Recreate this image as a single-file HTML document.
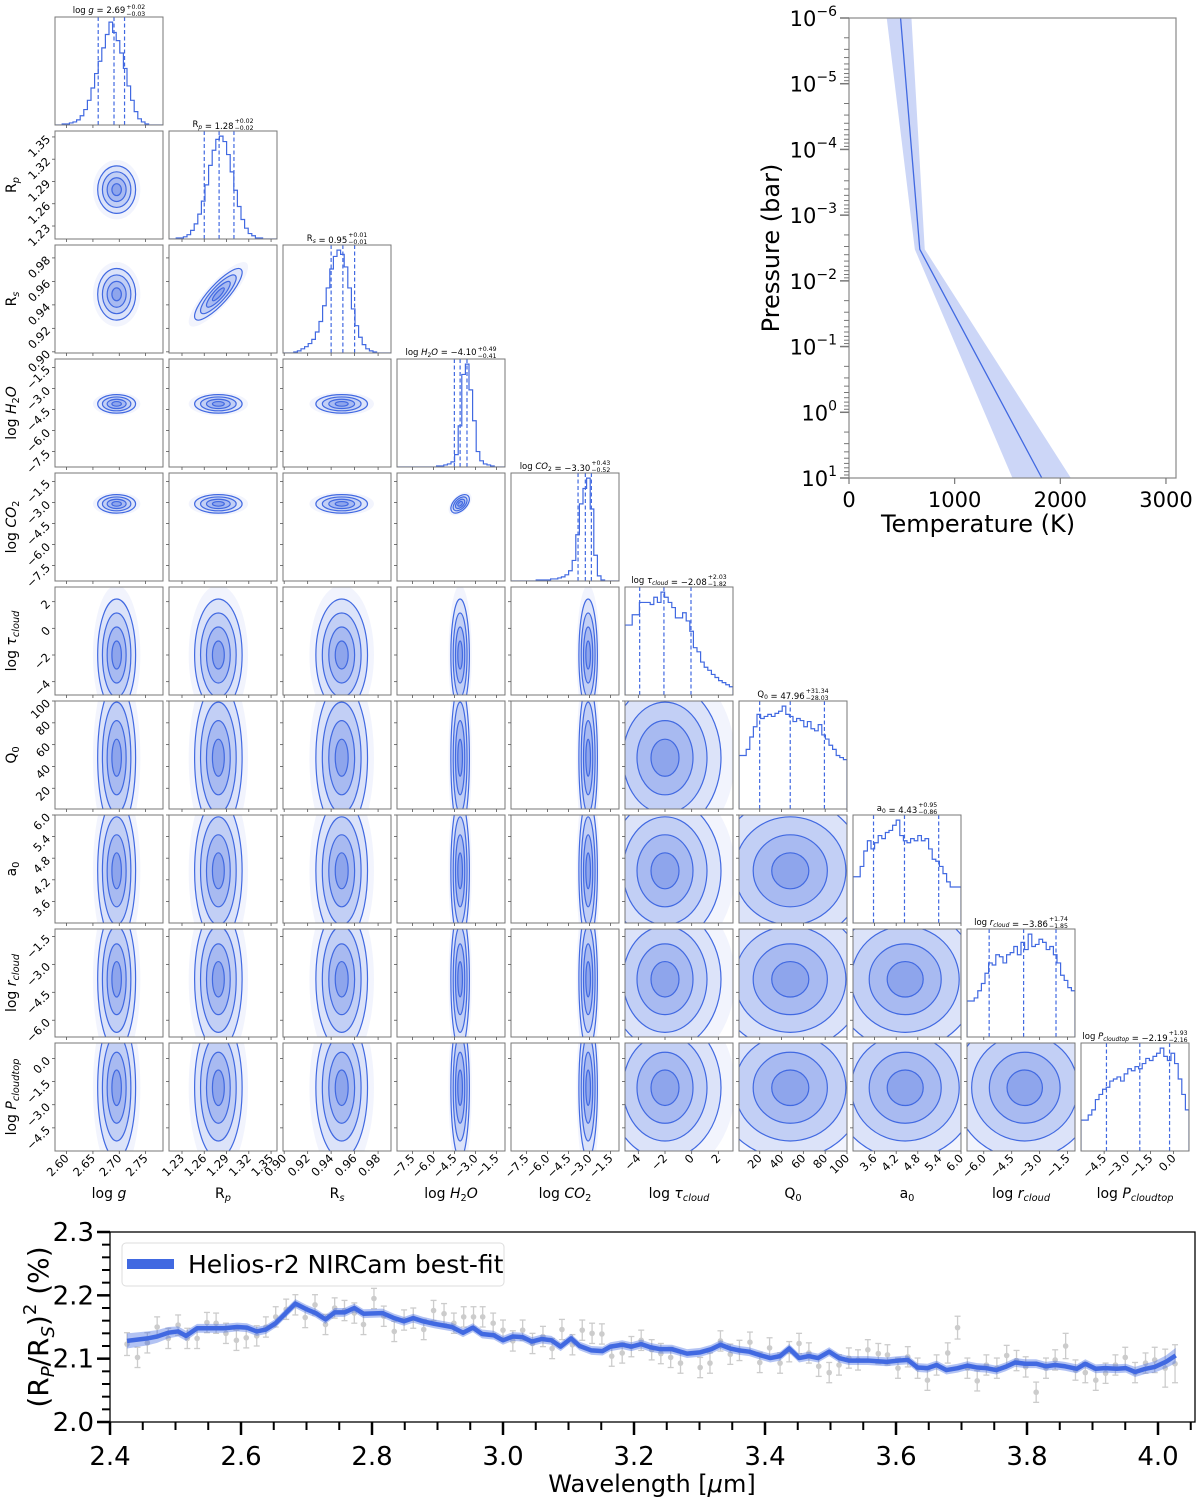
<!DOCTYPE html>
<html><head><meta charset="utf-8"><style>
html,body{margin:0;padding:0;background:#fff;}
svg{display:block;font-family:"DejaVu Sans","Liberation Sans",sans-serif;}
</style></head><body>
<svg id="fig" width="1200" height="1499" viewBox="0 0 1200 1499" xmlns="http://www.w3.org/2000/svg"></svg>
<script>
// ---------- Corner plot data ----------
const parNames = ['logg','Rp','Rs','logH2O','logCO2','logtau','Q0','a0','logrcloud','logPcloudtop'];
const parLo = [2.578, 1.2125, 0.899, -8.6, -8.6, -5.0, 1, 3.0, -6.9, -6.0];
const parHi = [2.783, 1.358, 0.991, -0.9, -0.9, 3.1, 100, 6.0, -1.1, 1.0];
const parTicks = [[2.60,2.65,2.70,2.75],[1.23,1.26,1.29,1.32,1.35],[0.90,0.92,0.94,0.96,0.98],[-7.5,-6.0,-4.5,-3.0,-1.5],[-7.5,-6.0,-4.5,-3.0,-1.5],[-4,-2,0,2],[20,40,60,80,100],[3.6,4.2,4.8,5.4,6.0],[-6.0,-4.5,-3.0,-1.5],[-4.5,-3.0,-1.5,0.0]];
const parTickLabels = [['2.60','2.65','2.70','2.75'],['1.23','1.26','1.29','1.32','1.35'],['0.90','0.92','0.94','0.96','0.98'],['\u22127.5','\u22126.0','\u22124.5','\u22123.0','\u22121.5'],['\u22127.5','\u22126.0','\u22124.5','\u22123.0','\u22121.5'],['\u22124','\u22122','0','2'],['20','40','60','80','100'],['3.6','4.2','4.8','5.4','6.0'],['\u22126.0','\u22124.5','\u22123.0','\u22121.5'],['\u22124.5','\u22123.0','\u22121.5','0.0']];
const parMed = [2.69, 1.28, 0.95, -4.10, -3.30, -2.08, 47.96, 4.43, -3.86, -2.19];
const parPlus = [0.02, 0.02, 0.01, 0.49, 0.43, 2.03, 31.34, 0.95, 1.74, 1.93];
const parMinus = [0.03, 0.02, 0.01, 0.41, 0.52, 1.82, 28.03, 0.86, 1.85, 2.16];
const medText = ['2.69','1.28','0.95','\u22124.10','\u22123.30','\u22122.08','47.96','4.43','\u22123.86','\u22122.19'];
const plusText = ['0.02','0.02','0.01','0.49','0.43','2.03','31.34','0.95','1.74','1.93'];
const minusText = ['0.03','0.02','0.01','0.41','0.52','1.82','28.03','0.86','1.85','2.16'];
const histCounts = [
 [0,0,1,1,2,3,5,9,15,24,36,50,62,75,88,100,90,82,70,55,38,24,13,6,3,1,0,0,0,0],
 [0,0,1,1,2,4,8,14,23,35,50,68,82,92,95,90,78,62,45,30,18,10,5,3,1,1,0,0,0,0],
 [0,0,0,1,2,4,6,9,13,20,30,45,62,80,92,98,94,82,62,42,26,15,8,4,2,1,0,0,0,0],
 [0,0,0,0,0,0,0,0,0,0,0,1,1,2,3,5,12,40,90,100,75,45,15,6,3,2,1,0,0,0],
 [0,0,0,0,0,0,0,1,1,1,1,2,2,3,4,6,10,20,45,75,90,100,70,25,5,1,0,0,0,0],
 [68,68,78,78,90,90,90,88,95,90,100,95,90,85,75,75,80,72,62,46,42,32,27,24,20,17,14,12,10,8],
 [52,52,58,70,80,92,88,90,92,90,93,95,100,92,90,85,88,86,80,85,78,76,82,72,68,62,58,52,50,48],
 [45,45,55,70,80,72,78,85,82,88,90,95,100,85,80,78,82,80,85,80,82,72,62,60,55,48,40,35,35,35],
 [35,35,38,45,52,62,72,70,80,78,72,80,82,88,80,92,85,100,88,90,95,92,85,88,80,72,60,55,48,45],
 [30,30,35,40,50,55,60,62,68,70,72,68,75,80,78,82,80,85,90,88,92,95,100,92,88,95,85,70,55,40]
];
const densCenter = [2.695, 1.279, 0.949, -4.1, -3.1, -2.0, 48, 4.45, -3.8, -1.9];
const densSigma = [0.018, 0.016, 0.011, 0.33, 0.33, 2.1, 34, 1.0, 1.9, 2.3];
const corrPairs = [[1,2,0.85],[3,4,0.5]];

// ---------- PT profile data ----------
const ptLogP = [-6, -2.48, 1];
const ptTmed = [488, 670, 1825];
const ptTlo = [357, 623, 1547];
const ptThi = [591, 717, 2100];
const ptXTicks = [0,1000,2000,3000];
const ptYDecades = [-6,-5,-4,-3,-2,-1,0,1];

// ---------- Spectrum data ----------
const modelWl = [2.426,2.457,2.472,2.489,2.504,2.516,2.533,2.551,2.574,2.594,2.609,2.624,2.638,2.653,2.683,2.700,2.714,2.729,2.743,2.758,2.773,2.787,2.816,2.834,2.849,2.863,2.878,2.895,2.922,2.939,2.954,2.968,2.986,3.000,3.015,3.030,3.044,3.059,3.074,3.088,3.104,3.117,3.135,3.152,3.164,3.182,3.196,3.211,3.225,3.240,3.258,3.281,3.301,3.318,3.332,3.347,3.361,3.376,3.391,3.408,3.423,3.437,3.452,3.467,3.481,3.498,3.513,3.528,3.557,3.586,3.604,3.618,3.633,3.648,3.662,3.677,3.694,3.709,3.724,3.738,3.753,3.767,3.782,3.797,3.814,3.829,3.843,3.858,3.876,3.889,3.905,3.919,3.937,3.951,3.965,3.981,3.995,4.012,4.027];
const modelVal = [2.128,2.132,2.135,2.141,2.143,2.136,2.148,2.148,2.148,2.150,2.149,2.143,2.146,2.156,2.187,2.178,2.172,2.162,2.173,2.173,2.180,2.171,2.172,2.164,2.159,2.164,2.159,2.155,2.150,2.141,2.149,2.139,2.137,2.129,2.135,2.134,2.127,2.131,2.129,2.119,2.132,2.120,2.113,2.112,2.119,2.122,2.119,2.123,2.118,2.115,2.115,2.108,2.110,2.115,2.122,2.116,2.113,2.111,2.106,2.101,2.104,2.116,2.101,2.104,2.101,2.111,2.101,2.097,2.097,2.095,2.097,2.098,2.086,2.085,2.090,2.082,2.085,2.089,2.086,2.085,2.082,2.087,2.094,2.092,2.092,2.088,2.090,2.088,2.084,2.092,2.084,2.085,2.084,2.085,2.079,2.084,2.087,2.095,2.105];
const modelBand = [0.012,0.011,0.010,0.009,0.008,0.008,0.007,0.007,0.007,0.007,0.007,0.007,0.007,0.007,0.007,0.007,0.007,0.007,0.007,0.007,0.007,0.007,0.007,0.007,0.007,0.007,0.007,0.007,0.007,0.007,0.007,0.007,0.007,0.007,0.007,0.007,0.007,0.007,0.007,0.007,0.007,0.007,0.007,0.007,0.007,0.007,0.007,0.007,0.007,0.007,0.007,0.007,0.007,0.007,0.007,0.007,0.007,0.007,0.007,0.007,0.007,0.007,0.007,0.007,0.007,0.007,0.007,0.007,0.007,0.007,0.007,0.007,0.007,0.007,0.007,0.007,0.007,0.007,0.007,0.007,0.007,0.007,0.007,0.007,0.007,0.007,0.007,0.007,0.007,0.007,0.007,0.007,0.007,0.007,0.008,0.008,0.009,0.010,0.012];
const dataWl = [2.426,2.442,2.457,2.472,2.489,2.504,2.518,2.533,2.548,2.562,2.577,2.593,2.608,2.624,2.638,2.653,2.669,2.683,2.698,2.713,2.729,2.743,2.758,2.773,2.787,2.803,2.818,2.834,2.849,2.863,2.879,2.894,2.910,2.925,2.940,2.955,2.969,2.985,3.000,3.015,3.030,3.045,3.061,3.075,3.090,3.106,3.121,3.136,3.151,3.166,3.182,3.196,3.211,3.227,3.241,3.256,3.271,3.301,3.316,3.332,3.347,3.361,3.377,3.392,3.407,3.423,3.437,3.452,3.467,3.482,3.498,3.513,3.528,3.542,3.557,3.573,3.587,3.603,3.618,3.633,3.648,3.662,3.679,3.694,3.709,3.724,3.738,3.754,3.769,3.784,3.798,3.814,3.829,3.843,3.859,3.874,3.889,3.905,3.920,3.935,3.950,3.965,3.981,3.995,4.011,4.026];
const dataVal = [2.123,2.102,2.125,2.150,2.132,2.153,2.132,2.132,2.157,2.156,2.140,2.129,2.133,2.136,2.150,2.166,2.178,2.185,2.165,2.185,2.154,2.180,2.176,2.172,2.154,2.195,2.167,2.143,2.161,2.164,2.146,2.176,2.171,2.156,2.166,2.166,2.166,2.156,2.145,2.128,2.145,2.124,2.135,2.116,2.146,2.122,2.145,2.140,2.139,2.104,2.109,2.119,2.129,2.114,2.108,2.102,2.093,2.086,2.093,2.128,2.107,2.113,2.126,2.094,2.117,2.093,2.111,2.124,2.109,2.088,2.078,2.090,2.101,2.098,2.114,2.108,2.106,2.085,2.103,2.085,2.066,2.090,2.109,2.149,2.085,2.065,2.090,2.085,2.105,2.097,2.087,2.047,2.085,2.098,2.120,2.082,2.078,2.066,2.077,2.090,2.102,2.078,2.093,2.098,2.085,2.092];
const dataErr = [0.018,0.016,0.016,0.016,0.016,0.016,0.016,0.016,0.016,0.016,0.016,0.016,0.016,0.016,0.016,0.016,0.016,0.016,0.016,0.016,0.016,0.016,0.016,0.016,0.016,0.016,0.016,0.016,0.016,0.016,0.016,0.016,0.016,0.016,0.016,0.016,0.016,0.016,0.016,0.016,0.016,0.016,0.016,0.016,0.016,0.016,0.016,0.016,0.016,0.016,0.016,0.016,0.016,0.016,0.016,0.016,0.016,0.016,0.016,0.016,0.016,0.016,0.016,0.016,0.016,0.016,0.016,0.016,0.016,0.016,0.016,0.016,0.016,0.016,0.016,0.016,0.016,0.016,0.016,0.016,0.016,0.016,0.016,0.018,0.016,0.016,0.016,0.016,0.016,0.016,0.016,0.016,0.016,0.016,0.020,0.016,0.016,0.016,0.016,0.016,0.016,0.016,0.016,0.020,0.030,0.030];
const specXTicks = [2.4,2.6,2.8,3.0,3.2,3.4,3.6,3.8,4.0];
const specYTicks = [2.0,2.1,2.2,2.3];

// ---------- helpers ----------
const NS='http://www.w3.org/2000/svg';
const svg=document.getElementById('fig');
const BLUE='#4169e1';
function el(tag, attrs, parent){const e=document.createElementNS(NS,tag);for(const k in attrs)e.setAttribute(k,attrs[k]);(parent||svg).appendChild(e);return e;}
function txt(x,y,s,size,anchor,parent,extra){const t=el('text',Object.assign({x:x,y:y,'font-size':size,'text-anchor':anchor||'middle',fill:'#000'},extra||{}),parent);t.innerHTML=s;return t;}

const labHtml = [
 'log<tspan font-style="italic"> g</tspan>',
 'R<tspan font-size="70%" dy="3" font-style="italic">p</tspan>',
 'R<tspan font-size="70%" dy="3" font-style="italic">s</tspan>',
 'log<tspan font-style="italic"> H</tspan><tspan font-size="70%" dy="3">2</tspan><tspan dy="-3" font-style="italic">O</tspan>',
 'log<tspan font-style="italic"> CO</tspan><tspan font-size="70%" dy="3">2</tspan>',
 'log<tspan font-style="italic"> τ</tspan><tspan font-size="70%" dy="3" font-style="italic">cloud</tspan>',
 'Q<tspan font-size="70%" dy="3">0</tspan>',
 'a<tspan font-size="70%" dy="3">0</tspan>',
 'log<tspan font-style="italic"> r</tspan><tspan font-size="70%" dy="3" font-style="italic">cloud</tspan>',
 'log<tspan font-style="italic"> P</tspan><tspan font-size="70%" dy="3" font-style="italic">cloudtop</tspan>'
];
const labTitle = [
 'log<tspan font-style="italic"> g</tspan>',
 'R<tspan font-size="70%" dy="2" font-style="italic">p</tspan><tspan dy="-2"></tspan>',
 'R<tspan font-size="70%" dy="2" font-style="italic">s</tspan><tspan dy="-2"></tspan>',
 'log<tspan font-style="italic"> H</tspan><tspan font-size="70%" dy="2">2</tspan><tspan dy="-2" font-style="italic">O</tspan>',
 'log<tspan font-style="italic"> CO</tspan><tspan font-size="70%" dy="2">2</tspan><tspan dy="-2"></tspan>',
 'log<tspan font-style="italic"> τ</tspan><tspan font-size="70%" dy="2" font-style="italic">cloud</tspan><tspan dy="-2"></tspan>',
 'Q<tspan font-size="70%" dy="2">0</tspan><tspan dy="-2"></tspan>',
 'a<tspan font-size="70%" dy="2">0</tspan><tspan dy="-2"></tspan>',
 'log<tspan font-style="italic"> r</tspan><tspan font-size="70%" dy="2" font-style="italic">cloud</tspan><tspan dy="-2"></tspan>',
 'log<tspan font-style="italic"> P</tspan><tspan font-size="70%" dy="2" font-style="italic">cloudtop</tspan><tspan dy="-2"></tspan>'
];

const N=10, PX0=55, PY0=17, STEP=114, PW=108;
function px(i,v){return PX0+i*STEP+(v-parLo[i])/(parHi[i]-parLo[i])*PW;}
function py(j,v){return PY0+j*STEP+PW-(v-parLo[j])/(parHi[j]-parLo[j])*PW;}

const defs=el('defs',{});
const corner=el('g',{});



for(let j=0;j<N;j++){
 for(let i=0;i<=j;i++){
  const x0=PX0+i*STEP, y0=PY0+j*STEP;
  const g=el('g',{},corner);
  
  
  const cid='clip'+i+'_'+j;
  const cp=el('clipPath',{id:cid},defs); el('rect',{x:x0,y:y0,width:PW,height:PW},cp);
  if(i===j){
   const cnt=histCounts[i]; const nb=cnt.length; const mx=Math.max(...cnt)*1.05;
   let d='';
   for(let b=0;b<nb;b++){
    const xa=x0+b*PW/nb, xb=x0+(b+1)*PW/nb, yy=y0+PW-cnt[b]/mx*PW;
    d+=(b===0?'M'+xa+','+(y0+PW)+' L'+xa+','+yy:' L'+xa+','+yy)+' L'+xb+','+yy;
   }
   d+=' L'+(x0+PW)+','+(y0+PW);
   const h=el('path',{d:d,fill:'none',stroke:BLUE,'stroke-width':1.2,'clip-path':'url(#'+cid+')'},g);
   
   
   [parMed[i]-parMinus[i],parMed[i],parMed[i]+parPlus[i]].forEach((v,k)=>{
    const xx=px(i,v);
    const l=el('line',{x1:xx,x2:xx,y1:y0,y2:y0+PW,stroke:BLUE,'stroke-width':1.2,'stroke-dasharray':'4,2.5'},g);
    
    
   });
   // title with sup/sub
   const tg=el('g',{},g);
   
   
   const tm=txt(0,y0-4,labTitle[i]+' = '+medText[i],8.5,'start',tg);
   const w=tm.getComputedTextLength();
   const sp=txt(0,y0-8,'+'+plusText[i],6.2,'start',tg);
   const sb=txt(0,y0-1,'\u2212'+minusText[i],6.2,'start',tg);
   const sw=Math.max(sp.getComputedTextLength(),sb.getComputedTextLength());
   const st=x0+PW/2-(w+sw+1)/2;
   tm.setAttribute('x',st); sp.setAttribute('x',st+w+1); sb.setAttribute('x',st+w+1);
  } else {
   let rho=0; corrPairs.forEach(c=>{if(c[0]===i&&c[1]===j)rho=c[2];});
   const cx=px(i,densCenter[i]), cy=py(j,densCenter[j]);
   const sx=densSigma[i]/(parHi[i]-parLo[i])*PW, sy=densSigma[j]/(parHi[j]-parLo[j])*PW;
   let r1=sx, r2=sy, ang=0;
   if(rho!==0){
    const a=sx*sx, c=sy*sy, b=-rho*sx*sy;
    const tr=(a+c)/2, det=Math.sqrt(((a-c)/2)**2+b*b);
    const l1=tr+det, l2=tr-det; ang=Math.atan2(l1-a,b)*180/Math.PI;
    r1=Math.sqrt(l1); r2=Math.sqrt(Math.max(l2,0.01));
   }
   const gg=el('g',{'clip-path':'url(#'+cid+')'},g);
   const levels=[2.5,2.0,1.5,1.0,0.5];
   const fills=[0.07,0.12,0.16,0.2,0.25];
   levels.forEach((k,m)=>{
    const e=el('ellipse',{cx:cx,cy:cy,rx:r1*k,ry:r2*k,transform:'rotate('+ang+' '+cx+' '+cy+')',fill:BLUE,'fill-opacity':fills[m],stroke:m===0?'none':BLUE,'stroke-width':1.2},gg);
    
    
   });
  }
  const fr=el('rect',{x:x0,y:y0,width:PW,height:PW,fill:'none',stroke:'#777','stroke-width':1},g);
  
  
  parTicks[i].forEach((v,k)=>{const xx=px(i,v); if(xx<x0-0.5||xx>x0+PW+0.5)return;
   el('line',{x1:xx,x2:xx,y1:y0+PW,y2:y0+PW+3,stroke:'#555','stroke-width':0.8},g);
   if(j===N-1){const t=txt(xx+3,y0+PW+8,parTickLabels[i][k],11.5,'end',g,{transform:'rotate(-45 '+(xx+3)+' '+(y0+PW+8)+')'});
    
    }
  });
  if(i!==j){ parTicks[j].forEach((v,k)=>{const yy=py(j,v); if(yy<y0-0.5||yy>y0+PW+0.5)return;
   el('line',{x1:x0-3,x2:x0,y1:yy,y2:yy,stroke:'#555','stroke-width':0.8},g);
   if(i===0){const t=txt(x0-4,yy+3,parTickLabels[j][k],11.5,'end',g,{transform:'rotate(-45 '+(x0-4)+' '+(yy+3)+')'});
    
    }
  });}
 }
}
for(let i=0;i<N;i++){
 const t=txt(PX0+i*STEP+PW/2,1198,labHtml[i],14,'middle',corner);
 
 
 if(i>0){const yc=PY0+i*STEP+PW/2;
  const t2=txt(16,yc,labHtml[i],14,'middle',corner,{transform:'rotate(-90 16 '+yc+')'});
  
  }
}

// ---------- PT panel ----------
const PT={l:849,r:1176,t:18,b:478,tmin:0,tmax:3095,pmin:-6,pmax:1};
function tx(T){return PT.l+(T-PT.tmin)/(PT.tmax-PT.tmin)*(PT.r-PT.l);}
function ty(lp){return PT.t+(lp-PT.pmin)/(PT.pmax-PT.pmin)*(PT.b-PT.t);}
const ptg=el('g',{});


let band='';
ptLogP.forEach((p,k)=>{band+=(k?'L':'M')+tx(ptThi[k])+','+ty(p)+' ';});
for(let k=ptLogP.length-1;k>=0;k--)band+='L'+tx(ptTlo[k])+','+ty(ptLogP[k])+' ';
const bd=el('path',{d:band+'Z',fill:BLUE,'fill-opacity':0.27,stroke:'none'},ptg);


const ptl=el('polyline',{points:ptLogP.map((p,k)=>tx(ptTmed[k])+','+ty(p)).join(' '),fill:'none',stroke:BLUE,'stroke-width':1.3},ptg);


const ptf=el('rect',{x:PT.l,y:PT.t,width:PT.r-PT.l,height:PT.b-PT.t,fill:'none',stroke:'#888','stroke-width':1.2},ptg);


ptYDecades.forEach(d=>{const yy=ty(d);
 el('line',{x1:PT.l-9,x2:PT.l,y1:yy,y2:yy,stroke:'#777','stroke-width':1.5},ptg);
 const t=txt(PT.l-12,yy+8,'10<tspan font-size="14" dy="-10">'+(d<0?'\u2212'+(-d):d)+'</tspan>',21,'end',ptg);
 
 
 if(d<PT.pmax){for(let m=2;m<=9;m++){const ym=ty(d+Math.log10(m));el('line',{x1:PT.l-5,x2:PT.l,y1:ym,y2:ym,stroke:'#777','stroke-width':1},ptg);}}
});
ptXTicks.forEach(T=>{const xx=tx(T);
 el('line',{x1:xx,x2:xx,y1:PT.b,y2:PT.b+6,stroke:'#777','stroke-width':1.2},ptg);
 const t=txt(xx,PT.b+29,String(T),21,'middle',ptg);
 
 
});
const ptxl=txt(978,532,'Temperature (K)',24,'middle',ptg);


const ptyl=txt(779,248,'Pressure (bar)',24,'middle',ptg,{transform:'rotate(-90 779 248)'});



// ---------- Spectrum ----------
const SP={l:110,r:1195,t:1232,b:1422,x0:2.4,x1:4.0,xp0:110,xp1:1158,y0:2.0,y1:2.3};
function sx(w){return SP.xp0+(w-SP.x0)/(SP.x1-SP.x0)*(SP.xp1-SP.xp0);}
function sy(v){return SP.b-(v-SP.y0)/(SP.y1-SP.y0)*(SP.b-SP.t);}
const sg=el('g',{});


dataWl.forEach((w,k)=>{const xx=sx(w), yy=sy(dataVal[k]), e1=sy(dataVal[k]+dataErr[k]), e2=sy(dataVal[k]-dataErr[k]);
 const pg=el('g',{stroke:'#cccccc','stroke-width':1.3},sg);
 
 
 el('line',{x1:xx,x2:xx,y1:e1,y2:e2},pg);
 el('line',{x1:xx-3,x2:xx+3,y1:e1,y2:e1},pg);
 el('line',{x1:xx-3,x2:xx+3,y1:e2,y2:e2},pg);
 el('circle',{cx:xx,cy:yy,r:2.8,fill:'#cccccc',stroke:'none'},pg);
});
let sbp='';
modelWl.forEach((w,k)=>{sbp+=(k?'L':'M')+sx(w)+','+sy(modelVal[k]+modelBand[k])+' ';});
for(let k=modelWl.length-1;k>=0;k--)sbp+='L'+sx(modelWl[k])+','+sy(modelVal[k]-modelBand[k])+' ';
const sbe=el('path',{d:sbp+'Z',fill:BLUE,'fill-opacity':0.4,stroke:'none'},sg);


const sml=el('polyline',{points:modelWl.map((w,k)=>sx(w)+','+sy(modelVal[k])).join(' '),fill:'none',stroke:BLUE,'stroke-width':4.5,'stroke-linejoin':'round'},sg);


const sfr=el('rect',{x:SP.l,y:SP.t,width:SP.r-SP.l,height:SP.b-SP.t,fill:'none',stroke:'#000','stroke-width':1.3},sg);


specYTicks.forEach(v=>{const yy=sy(v);
 el('line',{x1:SP.l-13,x2:SP.l,y1:yy,y2:yy,stroke:'#000','stroke-width':2.5},sg);
 const t=txt(SP.l-16,yy+9,v.toFixed(1),26,'end',sg);
 
 
});
for(let k=0;k<15;k++){const v=2.0+k*0.02; if(Math.abs(v*10-Math.round(v*10))<1e-6)continue; const yy=sy(v);
 el('line',{x1:SP.l-8,x2:SP.l,y1:yy,y2:yy,stroke:'#000','stroke-width':2},sg);}
specXTicks.forEach(w=>{const xx=sx(w);
 el('line',{x1:xx,x2:xx,y1:SP.b,y2:SP.b+13,stroke:'#000','stroke-width':2.5},sg);
 const t=txt(xx,SP.b+43,w.toFixed(1),26,'middle',sg);
 
 
});
for(let k=0;k<=35;k++){const w=2.4+k*0.05; if(k%4===0)continue; const xx=sx(w); if(xx>SP.r)continue;
 el('line',{x1:xx,x2:xx,y1:SP.b,y2:SP.b+8,stroke:'#000','stroke-width':2},sg);}
const sxl=txt(652,1492,'Wavelength [<tspan font-style="italic">μ</tspan>m]',24,'middle',sg);


const syl=txt(48,1327,'(R<tspan font-size="18" dy="6" font-style="italic">P</tspan><tspan dy="-6">/R</tspan><tspan font-size="18" dy="6" font-style="italic">S</tspan><tspan dy="-6">)</tspan><tspan font-size="18" dy="-12">2</tspan><tspan dy="12"> (%)</tspan>',28,'middle',sg,{transform:'rotate(-90 48 1327)'});


const lg=el('g',{},sg);


el('rect',{x:122,y:1243,width:382,height:43,rx:4,fill:'#fff','fill-opacity':0.85,stroke:'#ddd','stroke-width':1},lg);
const lsw=el('line',{x1:127,x2:174,y1:1264,y2:1264,stroke:BLUE,'stroke-width':10},lg);


const ltx=txt(188,1273,'Helios-r2 NIRCam best-fit',25,'start',lg);


</script>
</body></html>
